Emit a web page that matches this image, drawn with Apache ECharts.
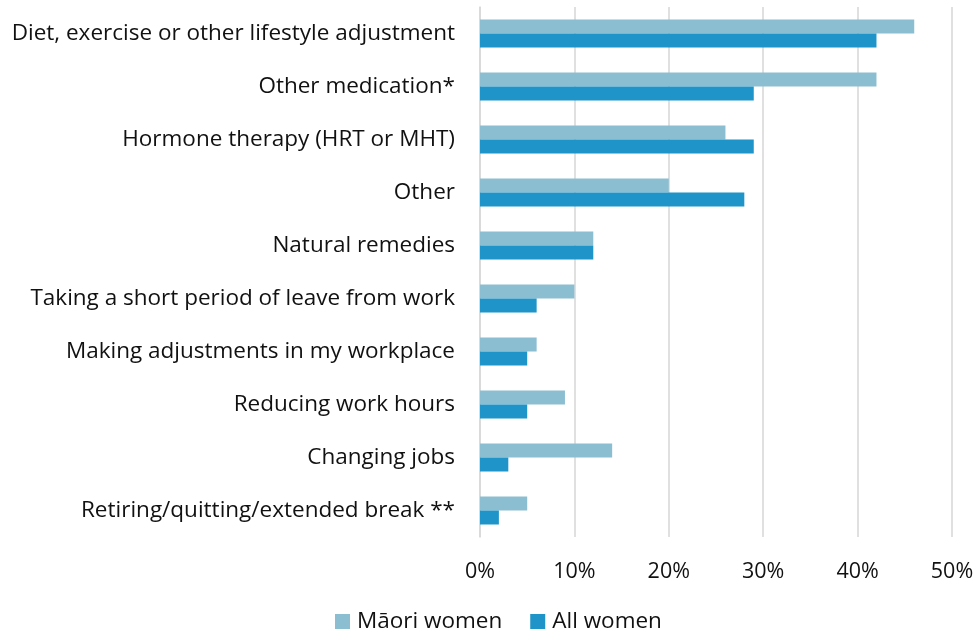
<!DOCTYPE html>
<html>
<head>
<meta charset="utf-8">
<script src="https://cdn.jsdelivr.net/npm/echarts@6/dist/echarts.min.js"></script>
<style>
  html, body { margin: 0; padding: 0; background: #ffffff; }
  #chart { width: 979px; height: 635px; }
</style>
</head>
<body>
<div id="chart"></div>
<script>
// Ways of managing menopause symptoms, share of respondents (%)
const categories = [
  'Diet, exercise or other lifestyle adjustment',
  'Other medication*',
  'Hormone therapy (HRT or MHT)',
  'Other',
  'Natural remedies',
  'Taking a short period of leave from work',
  'Making adjustments in my workplace',
  'Reducing work hours',
  'Changing jobs',
  'Retiring/quitting/extended break **'
];
const maoriWomen = [46, 42, 26, 20, 12, 10, 6, 9, 14, 5];
const allWomen   = [42, 29, 29, 28, 12, 6, 5, 5, 3, 2];
const seriesNames = ['Māori women', 'All women'];
const seriesColors = ['#8bbed1', '#1e94c8'];

const FONT = '"Open Sans", sans-serif';

const chart = echarts.init(document.getElementById('chart'), null, { renderer: 'canvas' });

chart.setOption({
  animation: false,
  backgroundColor: '#ffffff',
  textStyle: { fontFamily: FONT },
  grid: { left: 480, right: 27, top: 7, bottom: 98, containLabel: false },
  legend: {
    data: seriesNames,
    top: 605,
    left: 330,
    itemWidth: 15,
    itemHeight: 15,
    itemGap: 28,
    icon: 'rect',
    textStyle: { fontSize: 22.5, color: '#111', fontFamily: FONT, padding: [0, 0, 0, 2] }
  },
  xAxis: {
    type: 'value',
    min: 0,
    max: 50,
    interval: 10,
    axisLine: { show: false },
    axisTick: { show: false },
    axisLabel: {
      formatter: '{value}%',
      fontSize: 21.5,
      color: '#111',
      margin: 24,
      fontFamily: FONT
    },
    splitLine: { show: true, lineStyle: { color: '#d9d9d9', width: 1.6 } }
  },
  yAxis: {
    type: 'category',
    data: categories,
    inverse: true,
    axisLine: { show: true, lineStyle: { color: '#d9d9d9', width: 1.6 } },
    axisTick: { show: false },
    axisLabel: {
      fontSize: 22.5,
      color: '#111',
      margin: 25,
      padding: [7, 0, 0, 0],
      fontFamily: FONT
    }
  },
  series: [
    {
      name: seriesNames[0],
      type: 'bar',
      data: maoriWomen,
      barWidth: 14,
      barGap: '0%',
      itemStyle: { color: seriesColors[0] }
    },
    {
      name: seriesNames[1],
      type: 'bar',
      data: allWomen,
      barWidth: 14,
      barGap: '0%',
      itemStyle: { color: seriesColors[1] }
    }
  ]
});
</script>
</body>
</html>
